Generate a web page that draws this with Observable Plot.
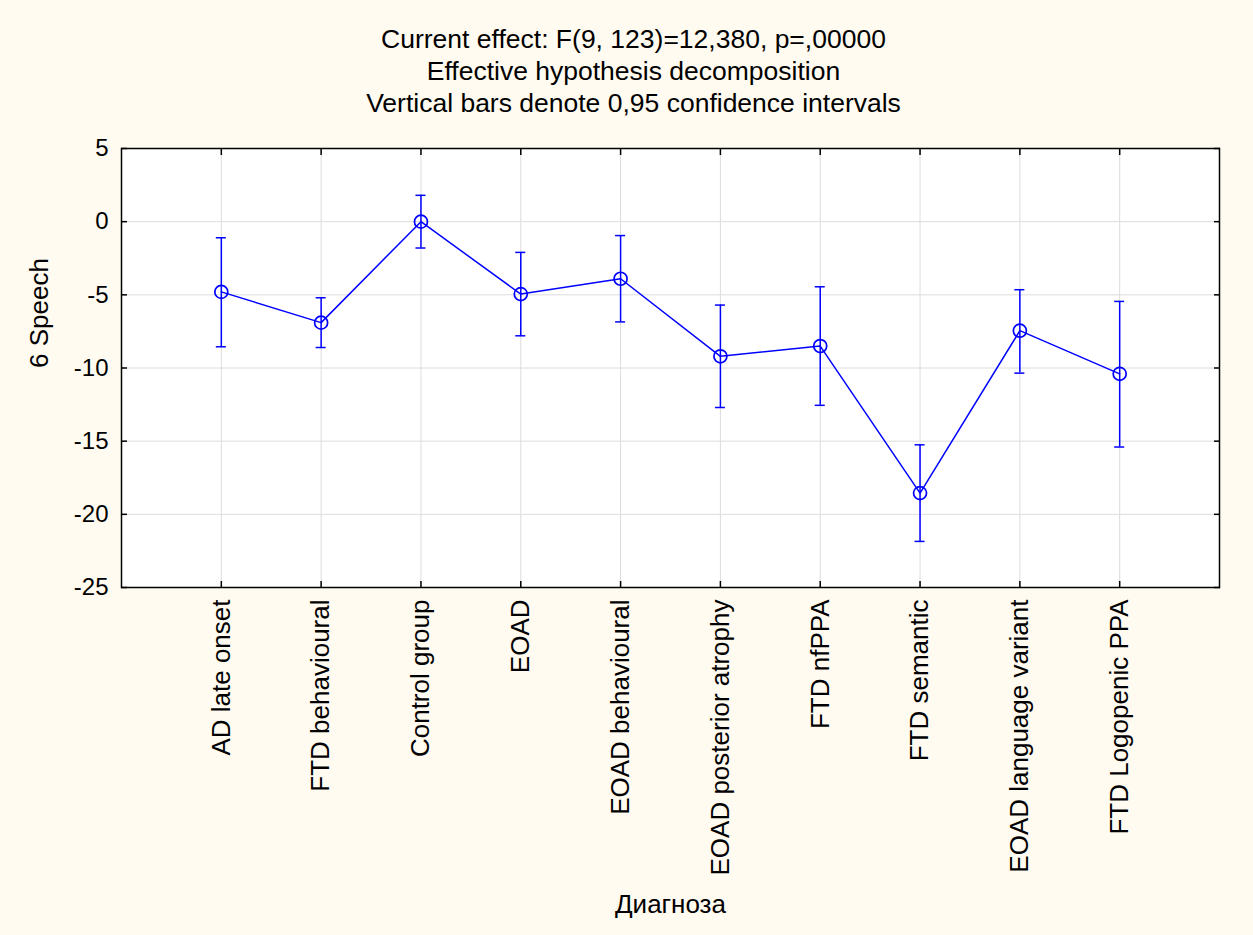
<!DOCTYPE html>
<html>
<head>
<meta charset="utf-8">
<script src="https://cdn.jsdelivr.net/npm/d3@7"></script>
<script src="https://cdn.jsdelivr.net/npm/@observablehq/plot@0.6"></script>
<style>
  html, body { margin: 0; padding: 0; background: #FFFBF0; }
  #wrap { position: relative; width: 1253px; height: 935px; background: #FFFBF0; font-family: "Liberation Sans", Arial, sans-serif; }
  #titles { position: absolute; left: 7px; top: 23px; width: 1253px; text-align: center; font-size: 26.5px; line-height: 32px; color: #000; }
  #chart { position: absolute; left: 0; top: 0; }
</style>
</head>
<body>
<div id="wrap">
  <div id="chart"></div>
  <div id="titles">
    <div>Current effect: F(9, 123)=12,380, p=,00000</div>
    <div>Effective hypothesis decomposition</div>
    <div>Vertical bars denote 0,95 confidence intervals</div>
  </div>
</div>
<script>
const categories = ["AD late onset", "FTD behavioural", "Control group", "EOAD", "EOAD behavioural",
  "EOAD posterior atrophy", "FTD nfPPA", "FTD semantic", "EOAD language variant", "FTD Logopenic PPA"];
const means = [-4.8, -6.9, 0.0, -4.95, -3.9, -9.2, -8.5, -18.55, -7.45, -10.4];
const lower = [-8.55, -8.6, -1.8, -7.8, -6.85, -12.7, -12.55, -21.85, -10.35, -15.4];
const upper = [-1.1, -5.2, 1.8, -2.1, -0.95, -5.7, -4.45, -15.25, -4.65, -5.45];
const yTicks = [-25, -20, -15, -10, -5, 0, 5];
const yLabel = "6 Speech";
const xLabel = "Диагноза";

const data = categories.map((c, i) => ({cat: c, mean: means[i], lo: lower[i], hi: upper[i]}));
const blue = "#0000FF";
const gridColor = "#dcdcdc";
const font = "Liberation Sans, Arial, sans-serif";

const chart = Plot.plot({
  width: 1253,
  height: 935,
  marginTop: 148,
  marginBottom: 348,
  marginLeft: 121,
  marginRight: 34,
  style: {background: "transparent", fontFamily: font, color: "#000", overflow: "visible"},
  x: {type: "point", domain: categories, padding: 1, round: false, axis: null},
  y: {domain: [-25, 5], axis: null},
  marks: [
    Plot.frame({fill: "white", stroke: "none"}),
    Plot.gridY({ticks: yTicks, stroke: gridColor, strokeOpacity: 1, strokeWidth: 1}),
    Plot.gridX({stroke: gridColor, strokeOpacity: 1, strokeWidth: 1}),
    // inward tick marks on all four sides
    Plot.axisY({ticks: yTicks, anchor: "left", tickSize: 6, dx: 6, tickFormat: () => "", label: null, strokeWidth: 1.5}),
    Plot.axisY({ticks: yTicks, anchor: "right", tickSize: 6, dx: -6, tickFormat: () => "", label: null, strokeWidth: 1.5}),
    Plot.axisX({anchor: "top", tickSize: 6, dy: 6, tickFormat: () => "", label: null, strokeWidth: 1.5}),
    Plot.axisX({anchor: "bottom", tickSize: 6, dy: -6, tickFormat: () => "", label: null, strokeWidth: 1.5}),
    // tick labels
    Plot.axisY({ticks: yTicks, anchor: "left", tickSize: 0, tickPadding: 13, fontSize: 24, label: null, tickFormat: d => String(d)}),
    Plot.axisX({anchor: "bottom", tickSize: 0, tickPadding: 12, tickRotate: -90, fontSize: 26, label: null}),
    // axis titles
    Plot.text([yLabel], {text: d => d, frameAnchor: "left", dx: -82, rotate: -90, fontSize: 26}),
    Plot.text([xLabel], {text: d => d, frameAnchor: "bottom", dy: 325, fontSize: 26}),
    // data
    Plot.ruleX(data, {x: "cat", y1: "lo", y2: "hi", stroke: blue, strokeWidth: 1.5}),
    Plot.ruleY(data, {y: "lo", x1: "cat", x2: "cat", insetLeft: -5, insetRight: -5, stroke: blue, strokeWidth: 1.5}),
    Plot.ruleY(data, {y: "hi", x1: "cat", x2: "cat", insetLeft: -5, insetRight: -5, stroke: blue, strokeWidth: 1.5}),
    Plot.line(data, {x: "cat", y: "mean", stroke: blue, strokeWidth: 1.5}),
    Plot.dot(data, {x: "cat", y: "mean", r: 6.5, stroke: blue, fill: "none", strokeWidth: 1.7}),
    Plot.frame({stroke: "#000", strokeWidth: 1.5, fill: "none"})
  ]
});
document.getElementById("chart").appendChild(chart);
</script>
</body>
</html>
